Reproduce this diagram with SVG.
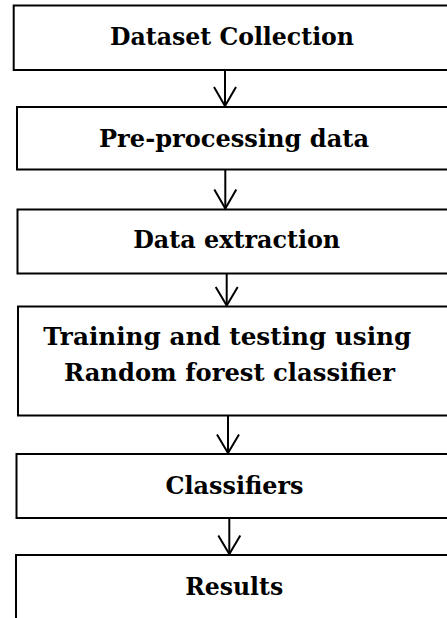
<svg xmlns="http://www.w3.org/2000/svg" width="447" height="618" viewBox="0 0 447 618">
  <style>
    .box { fill: #ffffff; stroke: #000000; stroke-width: 2; }
    .label { font-family: "DejaVu Serif", "Liberation Serif", serif; font-weight: bold; font-size: 25px; fill: #000000; text-anchor: middle; }
    .link { fill: none; stroke: #000000; stroke-width: 2; }
    .head { fill: none; stroke: #000000; stroke-width: 2; stroke-linejoin: miter; }
  </style>
  <rect x="0" y="0" width="447" height="618" fill="#ffffff"/>

  <g id="dataset-collection">
    <rect class="box" x="13.7" y="5.5" width="445" height="64.5"/>
    <text class="label" x="232" y="45" textLength="244" lengthAdjust="spacingAndGlyphs">Dataset Collection</text>
  </g>

  <g id="pre-processing">
    <rect class="box" x="17" y="107" width="445" height="62.5"/>
    <text class="label" x="234" y="147" textLength="270" lengthAdjust="spacingAndGlyphs">Pre-processing data</text>
  </g>

  <g id="data-extraction">
    <rect class="box" x="17.5" y="209.5" width="445" height="64"/>
    <text class="label" x="236.7" y="248" textLength="207" lengthAdjust="spacingAndGlyphs">Data extraction</text>
  </g>

  <g id="training-testing">
    <rect class="box" x="18" y="306.5" width="445" height="109"/>
    <text class="label" x="227.3" y="345" textLength="368" lengthAdjust="spacingAndGlyphs">Training and testing using</text>
    <text class="label" x="229.5" y="381" textLength="331" lengthAdjust="spacingAndGlyphs">Random forest classifier</text>
  </g>

  <g id="classifiers">
    <rect class="box" x="16.5" y="454" width="445" height="64"/>
    <text class="label" x="234.5" y="494" textLength="138" lengthAdjust="spacingAndGlyphs">Classifiers</text>
  </g>

  <g id="results">
    <rect class="box" x="16" y="555" width="445" height="80"/>
    <text class="label" x="234.2" y="595" textLength="98" lengthAdjust="spacingAndGlyphs">Results</text>
  </g>

  <g id="connectors">
    <line class="link" x1="225" y1="70" x2="225" y2="106"/>
    <polyline class="head" points="214,87 225,106 236,87"/>

    <line class="link" x1="225.3" y1="169.5" x2="225.3" y2="208.5"/>
    <polyline class="head" points="214.3,189.5 225.3,208.5 236.3,189.5"/>

    <line class="link" x1="226.7" y1="273.5" x2="226.7" y2="305.5"/>
    <polyline class="head" points="215.7,287 226.7,305.5 237.7,287"/>

    <line class="link" x1="228" y1="415.5" x2="228" y2="453"/>
    <polyline class="head" points="217,434.5 228,453 239,434.5"/>

    <line class="link" x1="229.3" y1="518" x2="229.3" y2="554"/>
    <polyline class="head" points="218.3,535.5 229.3,554 240.3,535.5"/>
  </g>
</svg>
